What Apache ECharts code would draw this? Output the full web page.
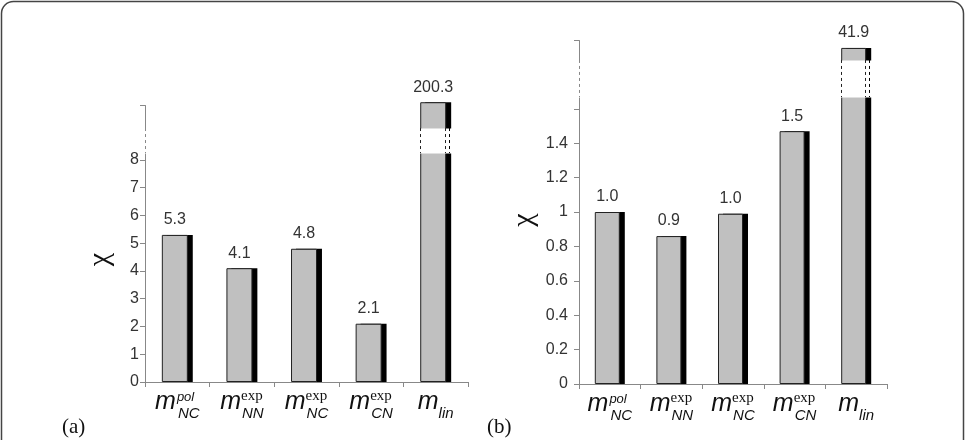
<!DOCTYPE html>
<html>
<head>
<meta charset="utf-8">
<title>chi per model</title>
<script src="https://cdn.jsdelivr.net/npm/echarts@6/dist/echarts.min.js"></script>
</head>
<body style="margin:0">
<div id="chart" style="width:965px;height:440px;"></div>
<script>
// model names: m_<sub>^<sup>
var models = ['m_NC^pol', 'm_NN^exp', 'm_NC^exp', 'm_CN^exp', 'm_lin'];
// panel (a) and (b) chi values
var chiA = [5.3, 4.1, 4.8, 2.1, 200.3];
var chiB = [1.0, 0.86, 0.99, 1.47, 41.9];
// shown y tick labels
var labelsA = [0, 1, 2, 3, 4, 5, 6, 7, 8];
var labelsB = [0, 0.2, 0.4, 0.6, 0.8, 1, 1.2, 1.4];
// axis break ranges [start, end, gap]
var breakA = [8.25, 199.37, 0.9];
var breakB = [1.669, 41.83, 0.215];
var maxA = 200.2;
var maxB = 41.946;

var sans = 'Liberation Sans, Arial, sans-serif';
var serif = 'Liberation Serif, Times New Roman, serif';

var chart = echarts.init(document.getElementById('chart'));

function modelLabel(name) {
    var p = name.match(/^m_([A-Za-z]+)(\^(\w+))?$/);
    var sub = p[1], sup = p[3];
    if (!sup) return '{m|m}{sub|' + sub + '}';
    var st = sup === 'exp' ? 'supSerif' : 'sup';
    return '{m|m}{' + st + '|' + sup + '}{sub|' + sub + '}';
}

var richLabel = {
    m: {fontSize: 25, fontStyle: 'italic', fontFamily: sans, color: '#111', align: 'left', verticalAlign: 'top', padding: [2, 0, 0, 0]},
    sup: {fontSize: 13, fontStyle: 'italic', fontFamily: sans, color: '#111', width: 1, align: 'left', verticalAlign: 'top', padding: [3, 0, 0, 1]},
    supSerif: {fontSize: 15, fontFamily: serif, color: '#111', width: 1, align: 'left', verticalAlign: 'top', padding: [1, 0, 0, 0]},
    sub: {fontSize: 15, fontStyle: 'italic', fontFamily: sans, color: '#111', align: 'left', verticalAlign: 'top', padding: [18, 0, 0, 0]}
};

function xAxisOpt(gridIndex) {
    return {
        type: 'category',
        gridIndex: gridIndex,
        data: models,
        axisLine: {lineStyle: {color: '#888', width: 1}},
        axisTick: {show: true, length: 5, lineStyle: {color: '#888'}},
        axisLabel: {interval: 0, margin: 6, formatter: modelLabel, rich: richLabel}
    };
}

function yAxisOpt(gridIndex, max, brk, labels, margin, nameGap, namePad) {
    var ticks = labels.slice();
    if (gridIndex === 1) ticks.push(1.6);
    ticks.push(max);
    return {
        type: 'value',
        gridIndex: gridIndex,
        min: 0,
        max: max,
        name: 'χ',
        nameLocation: 'middle',
        nameRotate: 90,
        nameGap: nameGap,
        nameTextStyle: {fontSize: 30, fontFamily: serif, color: '#111', padding: [0, namePad, 0, 0]},
        breaks: [{start: brk[0], end: brk[1], gap: brk[2]}],
        breakArea: {
            show: true,
            itemStyle: {color: '#fff', borderColor: 'rgba(0,0,0,0)', borderWidth: 0, opacity: 1},
            zigzagAmplitude: 0
        },
        splitLine: {show: false},
        axisLine: {show: true, lineStyle: {color: '#888', width: 1}},
        axisTick: {show: true, length: 5, customValues: ticks, lineStyle: {color: '#888'}},
        axisLabel: {
            margin: margin, fontSize: 16, fontFamily: sans, color: '#333',
            customValues: labels
        }
    };
}

// gray front bar with value label
function barSeries(idx, data, width) {
    return {
        type: 'bar',
        xAxisIndex: idx,
        yAxisIndex: idx,
        data: data,
        barWidth: width,
        z: 3,
        clip: false,
        itemStyle: {color: '#c0c0c0', borderColor: '#222', borderWidth: 1},
        label: {
            show: true,
            position: 'top',
            distance: 7,
            fontSize: 16,
            fontFamily: sans,
            color: '#333',
            formatter: function (p) { return p.value.toFixed(1); }
        }
    };
}

// black bar peeking out on the right
function shadowSeries(idx, data, width, gap) {
    return {
        type: 'bar',
        xAxisIndex: idx,
        yAxisIndex: idx,
        data: data,
        barWidth: width,
        barGap: gap,
        z: 2,
        clip: false,
        silent: true,
        itemStyle: {color: '#000'}
    };
}

var frame = [
    {type: 'rect', shape: {x: 1.5, y: 1.5, width: 962, height: 470, r: 12},
        style: {fill: 'none', stroke: '#444', lineWidth: 1.5}, silent: true},
    {type: 'text', left: 62, top: 417, style: {text: '(a)', fontSize: 21, fontFamily: serif, fill: '#111'}},
    {type: 'text', left: 487, top: 417, style: {text: '(b)', fontSize: 21, fontFamily: serif, fill: '#111'}}
];

var option = {
    animation: false,
    grid: [
        {left: 145, top: 105, width: 323, height: 277},
        {left: 579, top: 40, width: 308, height: 344}
    ],
    xAxis: [xAxisOpt(0), xAxisOpt(1)],
    yAxis: [
        yAxisOpt(0, maxA, breakA, labelsA, 6, 30, 32),
        yAxisOpt(1, maxB, breakB, labelsB, 11, 40, 16)
    ],
    series: [
        barSeries(0, chiA, 26), shadowSeries(0, chiA, 26, '-81%'),
        barSeries(1, chiB, 25), shadowSeries(1, chiB, 25, '-80%')
    ],
    graphic: frame
};
chart.setOption(option);

// dashed edges through the break: on the y axis line and on the tall bar
function dashLine(x, y0, y1, color) {
    return {type: 'line', z: 200, silent: true,
        shape: {x1: x, y1: y0, x2: x, y2: y1},
        style: {stroke: color, lineWidth: 1, lineDash: [3, 3]}};
}
var extra = [];
[[0, 1, breakA], [2, 3, breakB]].forEach(function (cfg, k) {
    var model = chart.getModel();
    var last = models.length - 1;
    var gray = model.getSeriesByIndex(cfg[0]).getData().getItemLayout(last);
    var blk = model.getSeriesByIndex(cfg[1]).getData().getItemLayout(last);
    var yLow = chart.convertToPixel({yAxisIndex: k}, cfg[2][0]);
    var yHigh = chart.convertToPixel({yAxisIndex: k}, cfg[2][1]);
    var axisX = model.getComponent('grid', k).coordinateSystem.getRect().x;
    extra.push(dashLine(Math.round(axisX) + 0.5, yHigh, yLow, '#888'));
    extra.push(dashLine(Math.round(gray.x) + 0.5, yHigh, yLow, '#222'));
    extra.push(dashLine(Math.round(gray.x + gray.width) - 0.5, yHigh, yLow, '#222'));
    extra.push(dashLine(Math.round(blk.x + blk.width) - 1.5, yHigh, yLow, '#000'));
});
chart.setOption({graphic: frame.concat(extra)});
</script>
</body>
</html>
